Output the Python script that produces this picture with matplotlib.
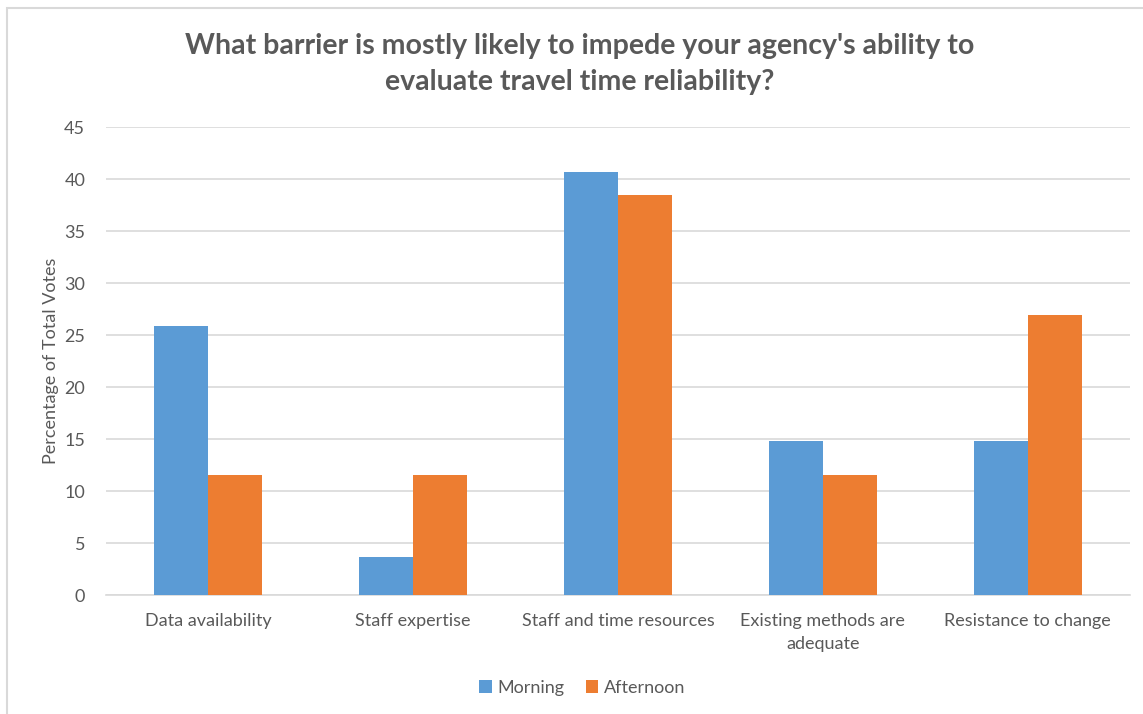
import matplotlib
matplotlib.use("Agg")
import matplotlib.pyplot as plt
import numpy as np
from matplotlib.patches import Rectangle

categories = ["Data availability", "Staff expertise", "Staff and time resources",
              "Existing methods are\nadequate", "Resistance to change"]
morning = [25.9, 3.7, 40.7, 14.8, 14.8]
afternoon = [11.5, 11.5, 38.5, 11.5, 26.9]
yticks = [0, 5, 10, 15, 20, 25, 30, 35, 40, 45]

plt.rcParams['font.family'] = ['Lato', 'DejaVu Sans']
gray = '#595959'

fig = plt.figure(figsize=(11.43, 7.14), dpi=100)
ax = fig.add_axes([106/1143, 1 - 595/714, (1130-106)/1143, (595-127)/714])

x = np.arange(len(categories))
w = 0.264
ax.bar(x - w/2, morning, width=w, color='#5B9BD5', label='Morning', zorder=3)
ax.bar(x + w/2, afternoon, width=w, color='#ED7D31', label='Afternoon', zorder=3)

ax.set_xlim(-0.5, len(categories) - 0.5)
ax.set_ylim(0, 45)
ax.set_yticks(yticks)
ax.yaxis.grid(True, color='#D9D9D9', linewidth=1.2, zorder=0)
ax.set_axisbelow(True)
for s in ['top', 'right', 'left']:
    ax.spines[s].set_visible(False)
ax.spines['bottom'].set_color('#D9D9D9')
ax.spines['bottom'].set_linewidth(1.2)
ax.tick_params(axis='both', length=0, colors=gray, labelsize=13)
ax.tick_params(axis='y', pad=15)
ax.tick_params(axis='x', pad=13)
ax.set_xticks(x)
ax.set_xticklabels(categories, color=gray, fontsize=13, linespacing=1.5)
ax.set_ylabel('Percentage of Total Votes', color=gray, fontsize=13, labelpad=4)

fig.text(0.5075, 1 - 64/714, "What barrier is mostly likely to impede your agency's ability to\nevaluate travel time reliability?",
         ha='center', va='center', fontsize=20.5, fontweight='bold', color=gray, linespacing=1.45)

leg = fig.legend(loc='center', bbox_to_anchor=(582/1143, 1 - 688/714), ncol=2, frameon=False,
                 fontsize=13, handlelength=0.7, handleheight=0.7, handletextpad=0.3, columnspacing=1.2)
for t in leg.get_texts():
    t.set_color(gray)

fig.patches.append(Rectangle((7/1143, -0.01), 1.1, 1 - 8/714 + 0.01, transform=fig.transFigure,
                             fill=False, edgecolor='#D9D9D9', linewidth=1.5))

fig.savefig('out.png', dpi=100)
